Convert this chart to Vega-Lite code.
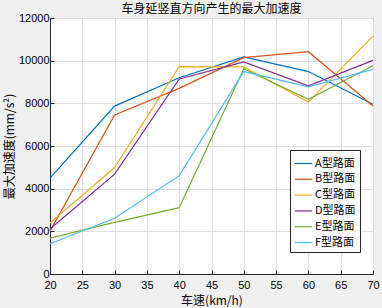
{
  "$schema": "https://vega.github.io/schema/vega-lite/v6.json",
  "width": 323,
  "height": 256,
  "autosize": {"type": "none"},
  "padding": {"left": 50, "top": 18, "right": 9, "bottom": 34},
  "background": "#f0f0f0",
  "title": {"text": "车身延竖直方向产生的最大加速度", "fontSize": 12, "font": "Noto Sans CJK SC", "fontWeight": "normal", "color": "#000000", "offset": -4},
  "config": {
    "view": {"fill": "#ffffff", "stroke": "#262626", "strokeWidth": 1},
    "font": "Liberation Sans"
  },
  "data": {"values": [
    {"speed": 20, "acc": 4490, "road": "A型路面"},
    {"speed": 30, "acc": 7870, "road": "A型路面"},
    {"speed": 40, "acc": 9200, "road": "A型路面"},
    {"speed": 50, "acc": 10175, "road": "A型路面"},
    {"speed": 60, "acc": 9490, "road": "A型路面"},
    {"speed": 70, "acc": 7960, "road": "A型路面"},
    {"speed": 20, "acc": 2010, "road": "B型路面"},
    {"speed": 30, "acc": 7450, "road": "B型路面"},
    {"speed": 40, "acc": 8700, "road": "B型路面"},
    {"speed": 50, "acc": 10140, "road": "B型路面"},
    {"speed": 60, "acc": 10420, "road": "B型路面"},
    {"speed": 70, "acc": 7875, "road": "B型路面"},
    {"speed": 20, "acc": 2390, "road": "C型路面"},
    {"speed": 30, "acc": 4990, "road": "C型路面"},
    {"speed": 40, "acc": 9720, "road": "C型路面"},
    {"speed": 50, "acc": 9705, "road": "C型路面"},
    {"speed": 60, "acc": 8060, "road": "C型路面"},
    {"speed": 70, "acc": 11150, "road": "C型路面"},
    {"speed": 20, "acc": 2110, "road": "D型路面"},
    {"speed": 30, "acc": 4680, "road": "D型路面"},
    {"speed": 40, "acc": 9140, "road": "D型路面"},
    {"speed": 50, "acc": 9940, "road": "D型路面"},
    {"speed": 60, "acc": 8820, "road": "D型路面"},
    {"speed": 70, "acc": 10015, "road": "D型路面"},
    {"speed": 20, "acc": 1680, "road": "E型路面"},
    {"speed": 30, "acc": 2420, "road": "E型路面"},
    {"speed": 40, "acc": 3110, "road": "E型路面"},
    {"speed": 50, "acc": 9620, "road": "E型路面"},
    {"speed": 60, "acc": 8190, "road": "E型路面"},
    {"speed": 70, "acc": 9760, "road": "E型路面"},
    {"speed": 20, "acc": 1420, "road": "F型路面"},
    {"speed": 30, "acc": 2610, "road": "F型路面"},
    {"speed": 40, "acc": 4610, "road": "F型路面"},
    {"speed": 50, "acc": 9490, "road": "F型路面"},
    {"speed": 60, "acc": 8770, "road": "F型路面"},
    {"speed": 70, "acc": 9595, "road": "F型路面"}
  ]},
  "mark": {"type": "line", "strokeWidth": 1.2},
  "encoding": {
    "x": {
      "field": "speed", "type": "quantitative",
      "scale": {"domain": [20, 70], "nice": false},
      "axis": {
        "title": "车速(km/h)", "titleFont": "Noto Sans CJK SC", "titleFontSize": 12, "titleFontWeight": "normal", "titleColor": "#000000", "titlePadding": 5,
        "values": [20, 25, 30, 35, 40, 45, 50, 55, 60, 65, 70],
        "labelFontSize": 11, "labelColor": "#000000", "labelPadding": 9, "labelFlush": false,
        "grid": true, "gridColor": "#e0e0e0", "gridWidth": 1,
        "tickSize": -4, "tickColor": "#262626", "domainColor": "#262626"
      }
    },
    "y": {
      "field": "acc", "type": "quantitative",
      "scale": {"domain": [0, 12000], "nice": false},
      "axis": {
        "title": "最大加速度(mm/s²)", "titleFont": "Noto Sans CJK SC", "titleFontSize": 12, "titleFontWeight": "normal", "titleColor": "#000000", "titlePadding": 2,
        "values": [0, 2000, 4000, 6000, 8000, 10000, 12000], "format": "d",
        "labelFontSize": 11, "labelColor": "#000000", "labelPadding": 5, "labelFlush": false,
        "grid": true, "gridColor": "#e0e0e0", "gridWidth": 1,
        "tickSize": -4, "tickColor": "#262626", "domainColor": "#262626"
      }
    },
    "color": {
      "field": "road", "type": "nominal",
      "scale": {"domain": ["A型路面", "B型路面", "C型路面", "D型路面", "E型路面", "F型路面"], "range": ["#0072BD", "#D95319", "#EDB120", "#7E2F8E", "#77AC30", "#4DBEEE"]},
      "legend": {
        "title": null, "orient": "none", "legendX": 240, "legendY": 132,
        "fillColor": "#ffffff", "strokeColor": "#262626", "padding": 4,
        "symbolType": "stroke", "symbolSize": 300, "symbolStrokeWidth": 1.2,
        "labelFont": "Noto Sans CJK SC", "labelFontSize": 11, "labelColor": "#000000", "labelOffset": 2,
        "rowPadding": 0.8
      }
    }
  }
}
